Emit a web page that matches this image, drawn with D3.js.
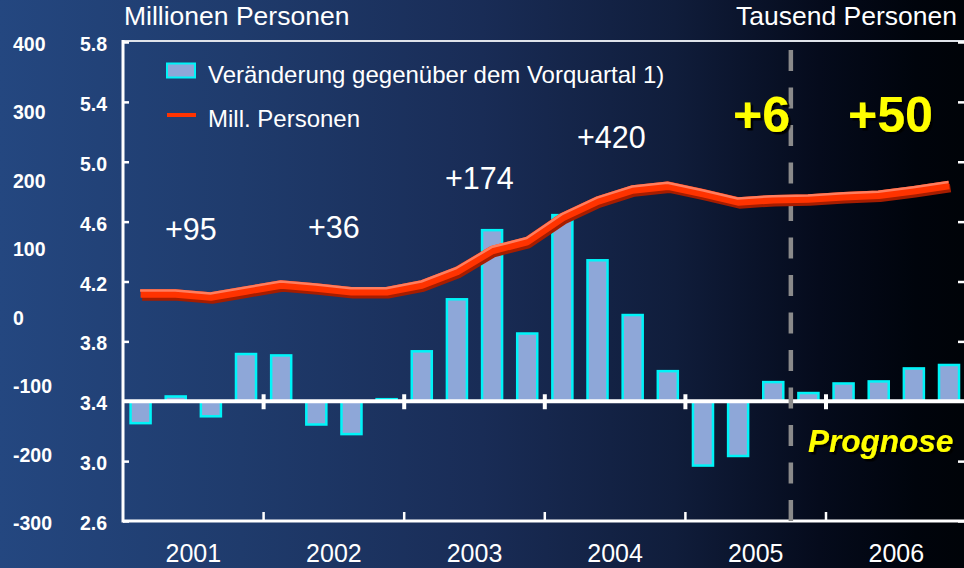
<!DOCTYPE html>
<html><head><meta charset="utf-8">
<script src="https://cdn.jsdelivr.net/npm/d3@7"></script>
<style>html,body{margin:0;padding:0;background:#000;}svg{display:block;}</style>
</head><body>
<svg id="chart" width="964" height="568"></svg>
<script>
// ---- data ----
const years = ["2001","2002","2003","2004","2005","2006"];
const quarters = years.flatMap(y => ["Q1","Q2","Q3","Q4"].map(q => y + q));
// Veränderung gegenüber dem Vorquartal (Tausend Personen)
const changeValues = [-32, 7, -22, 69, 67, -34, -48, 3, 73, 149, 250, 99, 272, 206, 126, 44, -94, -80, 28, 12, 26, 29, 48, 53];
// Mill. Personen
const millValues = [4.12, 4.12, 4.10, 4.14, 4.18, 4.16, 4.135, 4.135, 4.18, 4.27, 4.41, 4.47, 4.63, 4.74, 4.815, 4.84, 4.79, 4.735, 4.75, 4.755, 4.77, 4.78, 4.81, 4.845];
const millTicks = [2.6, 3.0, 3.4, 3.8, 4.2, 4.6, 5.0, 5.4, 5.8];
const thousandTicks = [400, 300, 200, 100, 0, -100, -200, -300];
const yearTotals = [{year:"2001", text:"+95"}, {year:"2002", text:"+36"}, {year:"2003", text:"+174"}, {year:"2004", text:"+420"}];
const forecastTotals = [{year:"2005", text:"+6"}, {year:"2006", text:"+50"}];
const forecastStart = "2005Q4";
const legendBars = "Veränderung gegenüber dem Vorquartal 1)";
const legendLine = "Mill. Personen";
const titleLeft = "Millionen Personen";
const titleRight = "Tausend Personen";
const forecastLabel = "Prognose";

// ---- layout ----
const W = 964, H = 568;
const pL = 123, pR = 966.6, pT = 42, pB = 521;
const svg = d3.select("#chart");
const font = "'Liberation Sans', Arial, sans-serif";

const defs = svg.append("defs");
const grad = defs.append("linearGradient").attr("id","bg").attr("x1","0").attr("x2","1").attr("y1","0").attr("y2","0");
[[0,"#244780"],[0.25,"#1f3b6c"],[0.5,"#192c56"],[0.7,"#101d3b"],[0.85,"#050b1c"],[0.95,"#00040c"],[1,"#000308"]]
  .forEach(([o,c]) => grad.append("stop").attr("offset",o).attr("stop-color",c));
const shadow = defs.append("filter").attr("id","shadow").attr("x","-10%").attr("y","-20%").attr("width","130%").attr("height","150%");
shadow.append("feDropShadow").attr("dx",2.5).attr("dy",2.5).attr("stdDeviation",0.4).attr("flood-color","#000").attr("flood-opacity",1);
svg.append("rect").attr("width",W).attr("height",H).attr("fill","url(#bg)");

const x = d3.scaleBand().domain(quarters).range([pL, pR]).paddingInner(0.43).paddingOuter(0.215);
const yR = d3.scaleLinear().domain([2.6, 5.8]).range([pB, pT]);
const yL = d3.scaleLinear().domain([-300, 400]).range([pB, pT]);
// bars: thousand-scale, zero aligned with 3.4 line
const zeroShift = yL.invert(yR(3.4));
const yB = yL.copy().domain(yL.domain().map(d => d - zeroShift));
const step = x.step();

// titles
svg.append("text").attr("x",124).attr("y",25).attr("fill","#fff").attr("font-family",font).attr("font-size",26.5).text(titleLeft);
svg.append("text").attr("x",957).attr("y",25).attr("text-anchor","end").attr("fill","#fff").attr("font-family",font).attr("font-size",26.5).text(titleRight);

// left tick labels
svg.append("g").selectAll("text").data(thousandTicks).join("text")
  .attr("x",13).attr("y",d => yL(d) + 9).attr("fill","#fff").attr("font-family",font)
  .attr("font-weight","bold").attr("font-size",19.5).text(d => d);
svg.append("g").selectAll("text").data(millTicks).join("text")
  .attr("x",107).attr("y",d => yR(d) + 9).attr("text-anchor","end").attr("fill","#fff").attr("font-family",font)
  .attr("font-weight","bold").attr("font-size",19.5).text(d => d.toFixed(1));

// frame: top line, left axis, bottom axis
svg.append("line").attr("x1",pL).attr("x2",W).attr("y1",pT-1).attr("y2",pT-1).attr("stroke","#dfe3ea").attr("stroke-width",2);
const axL = d3.axisRight(yR).tickValues(millTicks).tickSize(6).tickFormat("");
const gL = svg.append("g").attr("transform",`translate(${pL},0)`).call(axL);
gL.select(".domain").remove();
gL.selectAll("line").attr("stroke","#fff").attr("stroke-width",2.5);
svg.append("line").attr("x1",pL).attr("x2",pL).attr("y1",pT-2).attr("y2",pB+1.5).attr("stroke","#fff").attr("stroke-width",3);
const axR = d3.axisLeft(yR).tickValues(millTicks).tickSize(6).tickFormat("");
const gR = svg.append("g").attr("transform",`translate(${W},0)`).call(axR);
gR.select(".domain").remove();
gR.selectAll("line").attr("stroke","#fff").attr("stroke-width",2.5);
svg.append("line").attr("x1",pL).attr("x2",W).attr("y1",pB).attr("y2",pB).attr("stroke","#fff").attr("stroke-width",3);

const yearBounds = years.slice(1).map(yv => x(yv + "Q1") - (step - x.bandwidth())/2);
svg.append("g").selectAll("line").data(yearBounds).join("line")
  .attr("x1",d=>d).attr("x2",d=>d).attr("y1",pB-9).attr("y2",pB).attr("stroke","#fff").attr("stroke-width",2.5);

// year labels
svg.append("g").selectAll("text").data(years).join("text")
  .attr("x",d => x(d+"Q1") - (step - x.bandwidth())/2 + 2*step).attr("y",562).attr("text-anchor","middle")
  .attr("fill","#fff").attr("font-family",font).attr("font-size",25).text(d => d);

// bars
svg.append("g").selectAll("rect").data(quarters).join("rect")
  .attr("x",d => x(d)).attr("width",x.bandwidth())
  .attr("y",(d,i) => Math.min(yB(changeValues[i]), yB(0)))
  .attr("height",(d,i) => Math.abs(yB(changeValues[i]) - yB(0)))
  .attr("fill","#8ea7d8").attr("stroke","#00f4f8").attr("stroke-width",2.5);

// baseline at 3.4 with ticks
svg.append("line").attr("x1",pL).attr("x2",W).attr("y1",yB(0)).attr("y2",yB(0)).attr("stroke","#fff").attr("stroke-width",4);
svg.append("g").selectAll("line").data(yearBounds).join("line")
  .attr("x1",d=>d).attr("x2",d=>d).attr("y1",yB(0)-7).attr("y2",yB(0)+8).attr("stroke","#fff").attr("stroke-width",4);

// forecast dashed line
const fx = x(forecastStart) - (step - x.bandwidth())/2;
svg.append("line").attr("x1",fx).attr("x2",fx).attr("y1",50).attr("y2",pB)
  .attr("stroke","#8a8a8a").attr("stroke-width",4.5).attr("stroke-dasharray","21,16.5");

// line series with 3D look
const line = d3.line().x((d,i) => x(quarters[i]) + x.bandwidth()/2).y(d => yR(d)).curve(d3.curveLinear);
svg.append("path").datum(millValues).attr("d",line).attr("fill","none").attr("stroke","#a51d00")
  .attr("stroke-width",8.5).attr("stroke-linejoin","round").attr("transform","translate(1.5,3)");
svg.append("path").datum(millValues).attr("d",line).attr("fill","none").attr("stroke","#ff3300")
  .attr("stroke-width",8.5).attr("stroke-linejoin","round");
svg.append("path").datum(millValues).attr("d",line).attr("fill","none").attr("stroke","#ff7d5e")
  .attr("stroke-width",2.5).attr("stroke-linejoin","round").attr("transform","translate(-0.5,-3)");

// legend
svg.append("rect").attr("x",167).attr("y",63.5).attr("width",28).attr("height",14)
  .attr("fill","#8ea7d8").attr("stroke","#00f4f8").attr("stroke-width",2);
svg.append("text").attr("x",208).attr("y",83).attr("fill","#fff").attr("font-family",font).attr("font-size",24).text(legendBars);
svg.append("line").attr("x1",167).attr("x2",196).attr("y1",115).attr("y2",115).attr("stroke","#ff3300").attr("stroke-width",4);
svg.append("text").attr("x",208).attr("y",127).attr("fill","#fff").attr("font-family",font).attr("font-size",24).text(legendLine);

// yearly totals
const totalPos = {"2001":[165,240],"2002":[308,238],"2003":[445,189],"2004":[577,148]};
svg.append("g").selectAll("text").data(yearTotals).join("text")
  .attr("x",d => totalPos[d.year][0]).attr("y",d => totalPos[d.year][1])
  .attr("fill","#fff").attr("font-family",font).attr("font-size",30.5).text(d => d.text);

const fPos = {"2005":[733,132],"2006":[848,132]};
svg.append("g").selectAll("text").data(forecastTotals).join("text")
  .attr("x",d => fPos[d.year][0]).attr("y",d => fPos[d.year][1]).attr("fill","#ffff00")
  .attr("font-family",font).attr("font-weight","bold").attr("font-size",50).attr("filter","url(#shadow)").text(d => d.text);
svg.append("text").attr("x",808).attr("y",452).attr("fill","#ffff00").attr("font-family",font)
  .attr("font-weight","bold").attr("font-style","italic").attr("font-size",31.5).attr("filter","url(#shadow)").text(forecastLabel);
</script>
</body></html>
